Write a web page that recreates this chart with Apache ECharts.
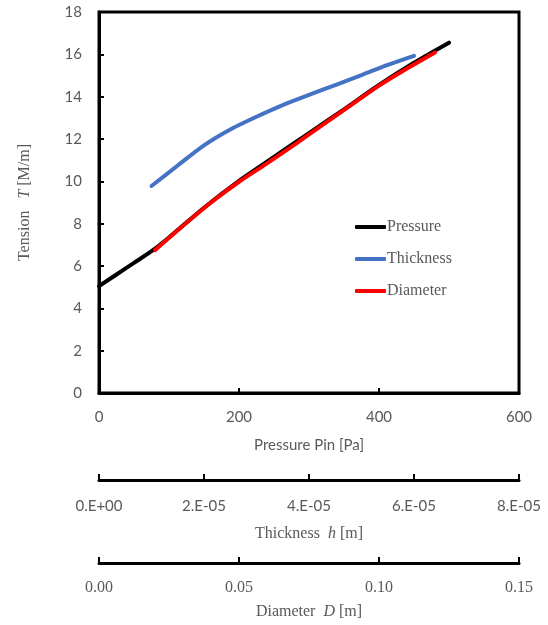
<!DOCTYPE html>
<html>
<head>
<meta charset="UTF-8">
<title>Tension</title>
<script src="https://cdn.jsdelivr.net/npm/echarts@6/dist/echarts.min.js"></script>
<style>
html, body{margin:0;padding:0;background:#fff;}
#chart{width:548px;height:625px;}
</style>
</head>
<body>
<div id="chart"></div>
<script>
// pressure axis [Pa] -> tension [M/m]
var pressureX = [0, 25, 50, 75, 100, 150, 200, 250, 300, 350, 400, 450, 500];
var pressureT = [5.05, 5.6, 6.15, 6.7, 7.35, 8.75, 10.02, 11.15, 12.28, 13.4, 14.55, 15.6, 16.55];
// thickness h [m]
var thickX = [1e-5, 1.5e-5, 2e-5, 2.5e-5, 3e-5, 3.5e-5, 4e-5, 4.5e-5, 5e-5, 5.5e-5, 6e-5];
var thickT = [9.78, 10.75, 11.7, 12.45, 13.05, 13.6, 14.08, 14.55, 15.02, 15.5, 15.93];
// diameter D [m]
var diamX = [0.02, 0.03, 0.04, 0.05, 0.06, 0.07, 0.08, 0.09, 0.10, 0.11, 0.12];
var diamT = [6.75, 7.9, 9.0, 9.98, 10.85, 11.75, 12.68, 13.6, 14.52, 15.33, 16.09];

var thickLabels = ['0.E+00', '2.E-05', '4.E-05', '6.E-05', '8.E-05'];
var diamLabels = ['0.00', '0.05', '0.10', '0.15'];

function pairs(xs, ys){
	var out = [];
	for(var i=0;i<xs.length;i++){
		out.push([xs[i], ys[i]]);
	}
	return out;
}

var sans = 'Lato';
var serif = 'Liberation Serif';
var grey = '#595959';

var chart = echarts.init(document.getElementById('chart'));
var option = {
	animation: false,
	grid: {
		show: true,
		left: 99,
		top: 12,
		width: 420,
		height: 381,
		borderColor: '#000',
		borderWidth: 3,
		backgroundColor: '#fff'
	},
	legend: {
		orient: 'vertical',
		left: 350,
		top: 214,
		itemWidth: 31,
		itemHeight: 4,
		itemGap: 16,
		icon: 'roundRect',
		textStyle: {fontFamily: serif, fontSize: 16, color: grey, padding: [0,0,0,-4]},
		data: ['Pressure', 'Thickness', 'Diameter']
	},
	xAxis: [{
		type: 'value',
		min: 0, max: 600, interval: 200,
		name: 'Pressure Pin [Pa]',
		nameLocation: 'middle',
		nameGap: 45,
		nameTextStyle: {fontFamily: sans, fontSize: 15, color: grey},
		axisLine: {lineStyle: {color: '#000', width: 3}},
		axisTick: {inside: true, length: 5, lineStyle: {color: '#000', width: 2}},
		axisLabel: {fontFamily: sans, fontSize: 15, color: grey, margin: 17},
		splitLine: {show: false}
	}, {
		type: 'value',
		position: 'bottom',
		offset: 87,
		min: 0, max: 8e-5, interval: 2e-5,
		name: 'Thickness  {i|h} [m]',
		nameLocation: 'middle',
		nameGap: 46,
		nameTextStyle: {fontFamily: serif, fontSize: 16, color: grey,
			rich: {i: {fontFamily: serif, fontSize: 16, color: grey, fontStyle: 'italic'}}},
		axisLine: {onZero: false, lineStyle: {color: '#000', width: 3}},
		axisTick: {inside: true, length: 6, lineStyle: {color: '#000', width: 2}},
		axisLabel: {fontFamily: sans, fontSize: 15, color: grey, margin: 19,
			formatter: function(v, i){ return thickLabels[i]; }},
		splitLine: {show: false}
	}, {
		type: 'value',
		position: 'bottom',
		offset: 170,
		min: 0, max: 0.15, interval: 0.05,
		name: 'Diameter  {i|D} [m]',
		nameLocation: 'middle',
		nameGap: 41,
		nameTextStyle: {fontFamily: serif, fontSize: 16, color: grey,
			rich: {i: {fontFamily: serif, fontSize: 16, color: grey, fontStyle: 'italic'}}},
		axisLine: {onZero: false, lineStyle: {color: '#000', width: 3}},
		axisTick: {inside: true, length: 6, lineStyle: {color: '#000', width: 2}},
		axisLabel: {fontFamily: serif, fontSize: 16, color: grey, margin: 17,
			formatter: function(v, i){ return diamLabels[i]; }},
		splitLine: {show: false}
	}],
	yAxis: [{
		type: 'value',
		min: 0, max: 18, interval: 2,
		name: 'Tension   {i|T} [M/m]',
		nameLocation: 'middle',
		nameGap: 66,
		nameTextStyle: {fontFamily: serif, fontSize: 16, color: grey,
			rich: {i: {fontFamily: serif, fontSize: 16, color: grey, fontStyle: 'italic'}}},
		axisLine: {lineStyle: {color: '#000', width: 3}},
		axisTick: {inside: true, length: 5, lineStyle: {color: '#000', width: 2}},
		axisLabel: {fontFamily: sans, fontSize: 15, color: grey, margin: 17},
		splitLine: {show: false}
	}],
	series: [{
		name: 'Pressure',
		type: 'line',
		xAxisIndex: 0,
		smooth: 0.3,
		showSymbol: false,
		color: '#000000',
		lineStyle: {width: 4, cap: 'round'},
		data: pairs(pressureX, pressureT)
	}, {
		name: 'Thickness',
		type: 'line',
		xAxisIndex: 1,
		smooth: 0.3,
		showSymbol: false,
		color: '#4472C4',
		lineStyle: {width: 4, cap: 'round'},
		data: pairs(thickX, thickT)
	}, {
		name: 'Diameter',
		type: 'line',
		xAxisIndex: 2,
		smooth: 0.3,
		showSymbol: false,
		color: '#FF0000',
		lineStyle: {width: 4, cap: 'round'},
		data: pairs(diamX, diamT)
	}]
};
chart.setOption(option);
</script>
</body>
</html>
